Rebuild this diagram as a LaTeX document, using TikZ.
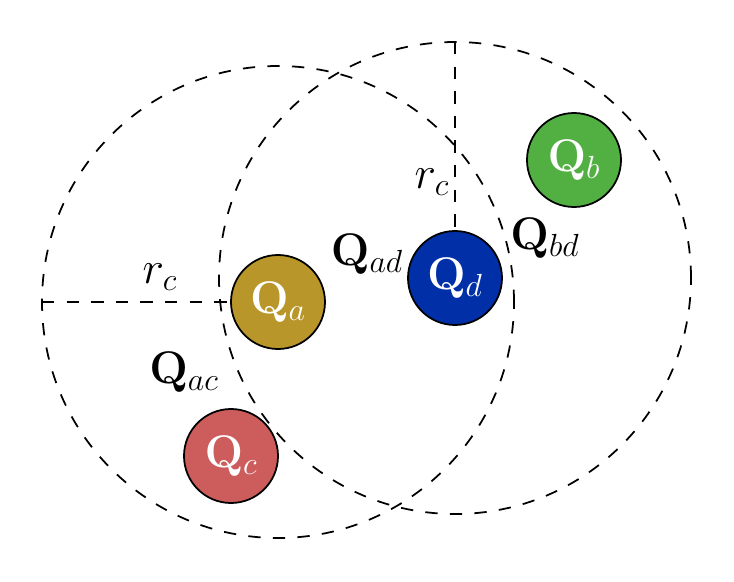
\RequirePackage{fix-cm}
\documentclass[tikz,border=0pt]{standalone}
\usepackage{amsmath,amssymb}
\usepackage{tikz}
\usetikzlibrary{positioning,calc}
\definecolor{ChargeGold}{HTML}{B8962A}
\definecolor{ChargeBlue}{HTML}{002FA7}
\definecolor{ChargeGreen}{HTML}{52B043}
\definecolor{ChargeRed}{HTML}{CD5C5C}

\begin{document}
\begin{tikzpicture}[every node/.style={font=\fontsize{26}{30}\selectfont},
  charge/.style={circle, draw=black, line width=1pt, minimum size=1.88cm, inner sep=0pt, text=white},
  cutoff/.style={line width=1pt, dash pattern=on 7pt off 7pt}]
\useasboundingbox (0,0) rectangle (14.68,11.62);
\node[charge, fill=ChargeGold] (qa) at (5.56,5.58) {$\mathbf{Q}_a$};
\node[charge, fill=ChargeBlue] (qd) at (9.10,6.06) {$\mathbf{Q}_d$};
\node[charge, fill=ChargeGreen] (qb) at (11.48,8.42) {$\mathbf{Q}_b$};
\node[charge, fill=ChargeRed] (qc) at (4.62,2.50) {$\mathbf{Q}_c$};
\draw[cutoff] (qa.center) circle (4.72);
\draw[cutoff] (qd.center) circle (4.72);
\coordinate (ra) at ($(qa.center)+(-4.72,0)$);
\coordinate (rd) at ($(qd.center)+(0,4.72)$);
\draw[cutoff] (ra) -- (qa.west);
\draw[cutoff] (rd) -- (qd.north);
\node (rca) at (3.20,6.08) {$r_c$};
\node (rcd) at (8.64,7.98) {$r_c$};
\node (qad) at (7.34,6.54) {$\mathbf{Q}_{ad}$};
\node (qbd) at (10.90,6.86) {$\mathbf{Q}_{bd}$};
\node (qac) at (3.68,4.18) {$\mathbf{Q}_{ac}$};
\end{tikzpicture}
\end{document}
